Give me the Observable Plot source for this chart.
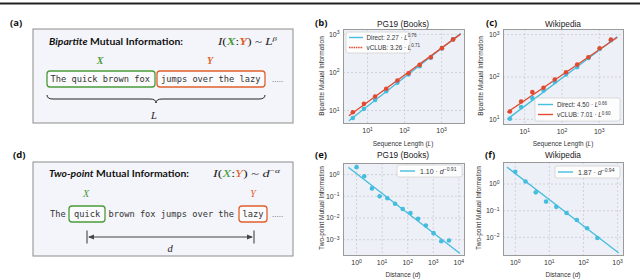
<!DOCTYPE html>
<html><head><meta charset="utf-8">
<script src="https://cdn.jsdelivr.net/npm/d3@7"></script>
<script src="https://cdn.jsdelivr.net/npm/@observablehq/plot@0.6"></script>
<style>
body{margin:0;background:#fff;}
#wrap{position:relative;width:640px;height:279px;overflow:hidden;}
#wrap > svg, #wrap > div{position:absolute;}
svg.ov{font-family:"Liberation Sans",Arial,sans-serif;}
</style></head><body><div id="wrap"></div>
<script>
// ---------- data ----------
const seqL = [4, 8, 16, 32, 64, 128, 256, 512, 1024, 2048];
const pg19Direct = [6.4, 11.1, 19, 32.4, 53.6, 88.6, 147, 245, 430, 740];
const pg19Vclub  = [9.0, 15, 23.4, 37.3, 61.6, 95.7, 159, 252, 436, 740];
const wikiDirect = [10.4, 19.5, 31.7, 48, 76, 115, 171, 282, 457, 740];
const wikiVclub  = [15.4, 26.5, 43.9, 55.9, 87.6, 129, 196, 293, 475, 760];
const pg19FitL = [3.2, 3200], pg19DirectFit = [5.5, 1047], pg19VclubFit = [7.44, 1004];
const wikiFitL = [3.5, 2950], wikiDirectFit = [10.3, 880], wikiVclubFit = [14.9, 846];
const distPG = [1, 2, 4, 8, 16, 32, 64, 128, 256, 512, 1024, 2048, 4096];
const pg19TwoPoint = [2.2, 0.83, 0.23, 0.10, 0.081, 0.045, 0.026, 0.017, 0.0091, 0.0045, 0.0020, 0.00085, 0.00091];
const distWiki = [1, 2, 4, 8, 16, 32, 64, 128, 256];
const wikiTwoPoint = [2.9, 1.25, 0.49, 0.22, 0.14, 0.082, 0.045, 0.022, 0.0095];
const pg19FitD = [0.5, 10500], pg19TwoFit = [2.07, 0.00024];
const wikiFitD = [0.59, 1040], wikiTwoFit = [4.2, 0.0027];
const ticksL = [10, 100, 1000];
const ticksBipY = [10, 100, 1000];
const ticksDistPG = [1, 10, 100, 1000, 10000];
const ticksDistWiki = [1, 10, 100, 1000];
const ticksTwoPG = [1, 0.1, 0.01, 0.001];
const ticksTwoWiki = [1, 0.1, 0.01];

const BLUE = "#45bddf", RED = "#e24a30", GREEN = "#4a9a3a", ORANGE = "#e0602c";

const zip = (xs, ys) => xs.map((x, i) => ({x, y: ys[i]}));
const fmt = d => "10^" + Math.round(Math.log10(d));

function chart(o) {
  const p = Plot.plot({
    width: o.w, height: o.h,
    marginLeft: o.ml, marginRight: o.mr, marginTop: o.mt, marginBottom: o.mb,
    style: {background: "transparent", fontFamily: "Liberation Sans, Arial, sans-serif", fontSize: "7px", color: "#333", overflow: "visible"},
    x: {type: "log", domain: o.xd, ticks: o.xt, tickFormat: fmt, tickSize: 0, tickPadding: 5, label: null},
    y: {type: "log", domain: o.yd, ticks: o.yt, tickFormat: fmt, tickSize: 0, tickPadding: 4, label: null},
    marks: [
      Plot.frame({fill: "#eef0f7"}),
      Plot.ruleX(o.xt, {stroke: "#c9cad3", strokeDasharray: "2,2", strokeWidth: 0.8}),
      Plot.ruleY(o.yt, {stroke: "#c9cad3", strokeDasharray: "2,2", strokeWidth: 0.8}),
      ...o.marks,
      Plot.frame({stroke: "#9a9a9a", strokeWidth: 1})
    ]
  });
  p.querySelectorAll("text").forEach(t => {
    const m = /^10\^(-?\d+)$/.exec(t.textContent);
    if (m) t.innerHTML = `10<tspan dy="-0.45em" font-size="0.72em">${m[1].replace("-", "−")}</tspan>`;
  });
  p.style.left = o.left + "px"; p.style.top = o.top + "px"; p.style.position = "absolute";
  document.getElementById("wrap").appendChild(p);
}

// (b)
chart({left: 300, top: 10, w: 180, h: 140, ml: 43, mr: 16, mt: 19, mb: 27,
  xd: [10 ** 0.35, 10 ** 3.62], yd: [10 ** 0.66, 10 ** 3.13], xt: ticksL, yt: ticksBipY,
  marks: [
    Plot.line(zip(pg19FitL, pg19DirectFit), {x: "x", y: "y", stroke: BLUE, strokeWidth: 1.3}),
    Plot.line(zip(pg19FitL, pg19VclubFit), {x: "x", y: "y", stroke: RED, strokeWidth: 1.3}),
    Plot.dot(zip(seqL, pg19Direct), {x: "x", y: "y", fill: BLUE, r: 2.3}),
    Plot.dot(zip(seqL, pg19Vclub), {x: "x", y: "y", fill: RED, r: 2.3})
  ]});
// (c)
chart({left: 470, top: 10, w: 170, h: 140, ml: 33, mr: 17, mt: 19, mb: 26,
  xd: [10 ** 0.43, 10 ** 3.65], yd: [10 ** 0.88, 10 ** 3.12], xt: ticksL, yt: ticksBipY,
  marks: [
    Plot.line(zip(wikiFitL, wikiDirectFit), {x: "x", y: "y", stroke: BLUE, strokeWidth: 1.3}),
    Plot.line(zip(wikiFitL, wikiVclubFit), {x: "x", y: "y", stroke: RED, strokeWidth: 1.3}),
    Plot.dot(zip(seqL, wikiDirect), {x: "x", y: "y", fill: BLUE, r: 2.3}),
    Plot.dot(zip(seqL, wikiVclub), {x: "x", y: "y", fill: RED, r: 2.3})
  ]});
// (e)
chart({left: 300, top: 145, w: 180, h: 134, ml: 43, mr: 16, mt: 18, mb: 24,
  xd: [10 ** -0.51, 10 ** 4.22], yd: [10 ** -3.73, 10 ** 0.51], xt: ticksDistPG, yt: ticksTwoPG,
  marks: [
    Plot.line(zip(pg19FitD, pg19TwoFit), {x: "x", y: "y", stroke: BLUE, strokeWidth: 1.3}),
    Plot.dot(zip(distPG, pg19TwoPoint), {x: "x", y: "y", fill: BLUE, r: 2.3})
  ]});
// (f)
chart({left: 470, top: 145, w: 170, h: 134, ml: 33, mr: 17, mt: 17, mb: 24,
  xd: [10 ** -0.345, 10 ** 3.175], yd: [10 ** -2.68, 10 ** 0.81], xt: ticksDistWiki, yt: ticksTwoWiki,
  marks: [
    Plot.line(zip(wikiFitD, wikiTwoFit), {x: "x", y: "y", stroke: BLUE, strokeWidth: 1.3}),
    Plot.dot(zip(distWiki, wikiTwoPoint), {x: "x", y: "y", fill: BLUE, r: 2.3})
  ]});

// ---------- overlay: diagrams, titles, labels, legends ----------
const MONO = "font-family:'DejaVu Sans Mono',monospace";
const SERIF = "font-family:'Liberation Serif',serif";
const ov = `
<svg class="ov" width="640" height="279" style="left:0;top:0;pointer-events:none" xmlns="http://www.w3.org/2000/svg">
<rect x="0" y="2.5" width="640" height="2" fill="#222"/>
<g font-weight="bold" font-size="9.5" fill="#111" style="font-family:'Open Sans',sans-serif">
 <text x="10" y="26">(a)</text>
 <text x="315" y="26">(b)</text>
 <text x="486" y="26">(c)</text>
 <text x="13" y="158">(d)</text>
 <text x="315" y="158">(e)</text>
 <text x="485" y="158">(f)</text>
</g>
<!-- (a) -->
<rect x="33" y="29" width="260" height="94" fill="#f4f5fa" stroke="#8c8c8c" stroke-width="1"/>
<text x="49" y="44.5" font-size="9.5" font-weight="bold" textLength="134" lengthAdjust="spacingAndGlyphs" style="font-family:Lato" fill="#111"><tspan font-style="italic">Bipartite</tspan> Mutual Information:</text>
<text x="218" y="44.5" font-size="10.5" textLength="59" lengthAdjust="spacingAndGlyphs" style="${SERIF}" fill="#222"><tspan font-style="italic">I</tspan>(<tspan font-style="italic" font-weight="bold" fill="${GREEN}">X</tspan>:<tspan font-style="italic" font-weight="bold" fill="${ORANGE}">Y</tspan>) ~ <tspan font-style="italic">L</tspan><tspan dy="-4" font-size="7" font-style="italic">β</tspan></text>
<text x="100" y="64" text-anchor="middle" font-size="10" font-style="italic" font-weight="bold" style="${SERIF}" fill="${GREEN}">X</text>
<text x="210" y="64" text-anchor="middle" font-size="10" font-style="italic" font-weight="bold" style="${SERIF}" fill="${ORANGE}">Y</text>
<rect x="47" y="71" width="108" height="16" rx="3" fill="#fbfbfd" stroke="${GREEN}" stroke-width="1.3"/>
<rect x="157" y="71" width="108" height="16" rx="3" fill="#fbfbfd" stroke="${ORANGE}" stroke-width="1.3"/>
<text x="50.5" y="82" font-size="8.7" style="${MONO}" fill="#333">The quick brown fox</text>
<text x="161" y="82" font-size="8.7" style="${MONO}" fill="#333">jumps over the lazy</text>
<text x="272" y="82" font-size="7" style="font-family:'DejaVu Sans'" fill="#555">.....</text>
<path d="M47,95 q0,4 6,4 L150,99 q6,0 6,4 q0,-4 6,-4 L259,99 q6,0 6,-4" fill="none" stroke="#222" stroke-width="1"/>
<text x="154" y="119" text-anchor="middle" font-size="10.5" font-style="italic" style="${SERIF}" fill="#222">L</text>
<!-- (d) -->
<rect x="33" y="162" width="260" height="94" fill="#f4f5fa" stroke="#8c8c8c" stroke-width="1"/>
<text x="49" y="177" font-size="9.5" font-weight="bold" textLength="140" lengthAdjust="spacingAndGlyphs" style="font-family:Lato" fill="#111"><tspan font-style="italic">Two-point</tspan> Mutual Information:</text>
<text x="213" y="177" font-size="10.5" textLength="67" lengthAdjust="spacingAndGlyphs" style="${SERIF}" fill="#222"><tspan font-style="italic">I</tspan>(<tspan font-style="italic" fill="${GREEN}">X</tspan>:<tspan font-style="italic" fill="${ORANGE}">Y</tspan>) ~ <tspan font-style="italic">d</tspan><tspan dy="-4" font-size="7"><tspan>−</tspan><tspan font-style="italic">α</tspan></tspan></text>
<text x="86" y="197" text-anchor="middle" font-size="10" font-style="italic" style="${SERIF}" fill="${GREEN}">X</text>
<text x="253" y="197" text-anchor="middle" font-size="10" font-style="italic" style="${SERIF}" fill="${ORANGE}">Y</text>
<rect x="69" y="206" width="36" height="16" rx="3" fill="#fbfbfd" stroke="${GREEN}" stroke-width="1.3"/>
<rect x="239" y="206" width="28" height="16" rx="3" fill="#fbfbfd" stroke="${ORANGE}" stroke-width="1.3"/>
<text x="50" y="217" font-size="8.7" style="${MONO}" fill="#333">The</text>
<text x="74" y="217" font-size="8.7" style="${MONO}" fill="#333">quick</text>
<text x="108.5" y="217" font-size="8.7" style="${MONO}" fill="#333">brown fox jumps over the</text>
<text x="242.5" y="217" font-size="8.7" style="${MONO}" fill="#333">lazy</text>
<text x="272" y="217" font-size="7" style="font-family:'DejaVu Sans'" fill="#555">.....</text>
<g stroke="#444" stroke-width="1.1" fill="#444">
 <line x1="87" y1="230.5" x2="87" y2="243.5"/>
 <line x1="254" y1="230.5" x2="254" y2="243.5"/>
 <line x1="89" y1="237" x2="252" y2="237"/>
 <path d="M88,237 l6,-2.6 l0,5.2 z" stroke="none"/>
 <path d="M253,237 l-6,-2.6 l0,5.2 z" stroke="none"/>
</g>
<text x="170" y="252" text-anchor="middle" font-size="10.5" font-style="italic" style="${SERIF}" fill="#222">d</text>

<!-- chart titles -->
<g font-size="8.3" fill="#222" text-anchor="middle">
 <text x="403" y="27">PG19 (Books)</text>
 <text x="563" y="27">Wikipedia</text>
 <text x="403" y="158">PG19 (Books)</text>
 <text x="563" y="158">Wikipedia</text>
</g>
<!-- axis labels -->
<g font-size="6.5" fill="#333" text-anchor="middle">
 <text x="403" y="145.5">Sequence Length (<tspan font-style="italic">L</tspan>)</text>
 <text x="563" y="145.5">Sequence Length (<tspan font-style="italic">L</tspan>)</text>
 <text x="403" y="277">Distance (<tspan font-style="italic">d</tspan>)</text>
 <text x="563" y="277">Distance (<tspan font-style="italic">d</tspan>)</text>
 <text transform="translate(324,76) rotate(-90)">Bipartite Mutual Information</text>
 <text transform="translate(483,76) rotate(-90)">Bipartite Mutual Information</text>
 <text transform="translate(324,208) rotate(-90)">Two-point Mutual Information</text>
 <text transform="translate(481,208) rotate(-90)">Two-point Mutual Information</text>
</g>
<!-- legends -->
<g font-size="6.3" fill="#333">
 <rect x="346" y="32" width="64" height="21" rx="2" fill="#fff" fill-opacity="0.85" stroke="#d0d0d0" stroke-width="0.8"/>
 <line x1="349" y1="37.5" x2="363" y2="37.5" stroke="${BLUE}" stroke-width="1.4"/>
 <line x1="349" y1="47.5" x2="363" y2="47.5" stroke="${RED}" stroke-width="1.4" stroke-dasharray="1.5,0.8"/>
 <text x="366.5" y="39.8">Direct: 2.27 · <tspan font-style="italic">L</tspan><tspan dy="-2.5" font-size="4.5">0.76</tspan></text>
 <text x="366.5" y="49.8">vCLUB: 3.26 · <tspan font-style="italic">L</tspan><tspan dy="-2.5" font-size="4.5">0.71</tspan></text>

 <rect x="535" y="98" width="85" height="23" rx="2" fill="#fff" fill-opacity="0.85" stroke="#d0d0d0" stroke-width="0.8"/>
 <line x1="538" y1="104.5" x2="553" y2="104.5" stroke="${BLUE}" stroke-width="1.4"/>
 <line x1="538" y1="114.5" x2="553" y2="114.5" stroke="${RED}" stroke-width="1.4"/>
 <text x="557" y="107">Direct: 4.50 · <tspan font-style="italic">L</tspan><tspan dy="-2.5" font-size="4.5">0.66</tspan></text>
 <text x="557" y="117">vCLUB: 7.01 · <tspan font-style="italic">L</tspan><tspan dy="-2.5" font-size="4.5">0.60</tspan></text>

 <rect x="397" y="165" width="65" height="12" rx="2" fill="#fff" fill-opacity="0.85" stroke="#d0d0d0" stroke-width="0.8"/>
 <line x1="400" y1="171" x2="415" y2="171" stroke="${BLUE}" stroke-width="1.4"/>
 <text x="420" y="173.5" font-size="7">1.10 · <tspan font-style="italic">d</tspan><tspan dy="-2.5" font-size="5">−0.91</tspan></text>

 <rect x="555" y="166" width="65" height="12" rx="2" fill="#fff" fill-opacity="0.85" stroke="#d0d0d0" stroke-width="0.8"/>
 <line x1="558" y1="172" x2="573" y2="172" stroke="${BLUE}" stroke-width="1.4"/>
 <text x="578" y="174.5" font-size="7">1.87 · <tspan font-style="italic">d</tspan><tspan dy="-2.5" font-size="5">−0.94</tspan></text>
</g>
</svg>`;
document.getElementById("wrap").insertAdjacentHTML("beforeend", ov);
</script></body></html>
